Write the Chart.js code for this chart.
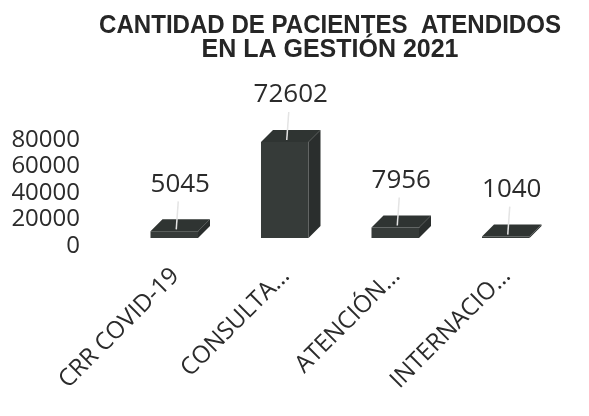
<!DOCTYPE html>
<html>
<head>
<meta charset="utf-8">
<script src="https://cdn.jsdelivr.net/npm/chart.js@4/dist/chart.umd.min.js"></script>
<style>
  html, body { margin: 0; padding: 0; background: #ffffff; }
  #wrap { width: 589px; height: 416px; }
</style>
</head>
<body>
<div id="wrap"><canvas id="c" width="589" height="416"></canvas></div>
<script>
const categories = ['CRR COVID-19', 'CONSULTA\u2026', 'ATENCIÓN\u2026', 'INTERNACIO\u2026'];
const patients = [5045, 72602, 7956, 1040];
const yTicks = [0, 20000, 40000, 60000, 80000];
const titleLines = ['CANTIDAD DE PACIENTES  ATENDIDOS', 'EN LA GESTIÓN 2021'];

const DX = 12, DY = 12;

const bar3d = {
  id: 'bar3d',
  afterDatasetsDraw(chart) {
    const ctx = chart.ctx;
    const meta = chart.getDatasetMeta(0);
    ctx.save();
    meta.data.forEach((el, i) => {
      const p = el.getProps(['x', 'y', 'base', 'width'], true);
      const l = p.x - p.width / 2, r = p.x + p.width / 2, t = p.y, b = p.base;
      // top face
      ctx.fillStyle = '#2f3432';
      ctx.beginPath();
      ctx.moveTo(l, t); ctx.lineTo(r, t); ctx.lineTo(r + DX, t - DY); ctx.lineTo(l + DX, t - DY);
      ctx.closePath(); ctx.fill();
      // side face
      ctx.fillStyle = '#2a2e2d';
      ctx.beginPath();
      ctx.moveTo(r, t); ctx.lineTo(r + DX, t - DY); ctx.lineTo(r + DX, b - DY); ctx.lineTo(r, b);
      ctx.closePath(); ctx.fill();
      // value label with leader line
      const lx = p.x + 6, ly = t - DY - 35;
      ctx.strokeStyle = '#e4e4e4';
      ctx.lineWidth = 1.5;
      ctx.beginPath();
      ctx.moveTo(lx - 2, ly + 17);
      ctx.lineTo(p.x + 2, t - DY / 2 + 4);
      ctx.stroke();
      ctx.fillStyle = '#2b2b2b';
      ctx.font = '26px "Open Sans"';
      ctx.textAlign = 'center';
      ctx.textBaseline = 'middle';
      ctx.fillText(String(patients[i]), lx, ly);
    });
    ctx.restore();
  }
};

new Chart(document.getElementById('c'), {
  type: 'bar',
  data: {
    labels: categories,
    datasets: [{
      data: patients,
      backgroundColor: '#363b39',
      borderWidth: 0,
      barPercentage: 1,
      categoryPercentage: 0.43
    }]
  },
  options: {
    responsive: false,
    animation: false,
    layout: { padding: { left: 99, right: 28, top: 0, bottom: 0 } },
    plugins: {
      legend: { display: false },
      tooltip: { enabled: false },
      title: {
        display: true,
        text: titleLines,
        color: '#262626',
        font: { family: '"Liberation Sans", Arial, sans-serif', size: 25, weight: 'bold', lineHeight: 0.98 },
        padding: { top: 13.5, bottom: 69.7 }
      }
    },
    scales: {
      x: {
        grid: { display: false, drawTicks: false },
        border: { display: false },
        afterFit(s) { s.height = 178; },
        ticks: {
          autoSkip: false,
          maxRotation: 45,
          minRotation: 45,
          padding: 24,
          labelOffset: 1,
          color: '#2b2b2b',
          font: { family: '"Open Sans", sans-serif', size: 24 }
        }
      },
      y: {
        min: 0,
        max: 80000,
        grid: { display: false, drawTicks: false },
        border: { display: false },
        afterFit(s) {
          s.width = 20;
          s._computeLabelArea = function () { return undefined; };
        },
        afterBuildTicks(s) { s.ticks = yTicks.map(v => ({ value: v })); },
        ticks: {
          autoSkip: false,
          padding: 39,
          labelOffset: 8,
          color: '#2b2b2b',
          font: { family: '"Open Sans", sans-serif', size: 24 },
          callback: (v) => String(v)
        }
      }
    }
  },
  plugins: [bar3d]
});
</script>
</body>
</html>
